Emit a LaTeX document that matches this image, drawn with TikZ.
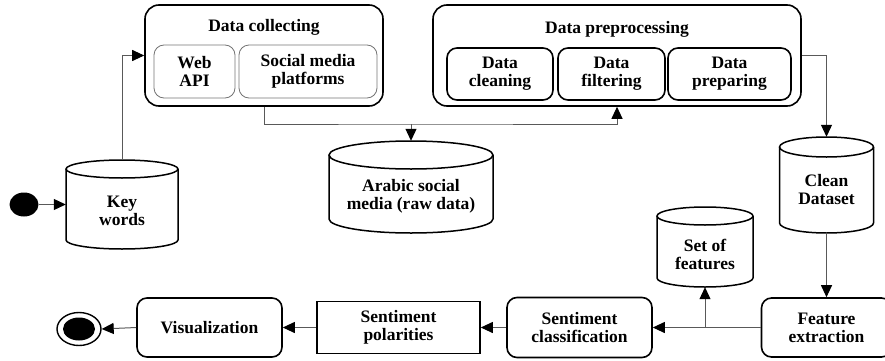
\documentclass[tikz,border=0pt]{standalone}
\usepackage{fontspec}
\setmainfont{Liberation Serif}
\usetikzlibrary{arrows.meta,shapes.geometric}
\tikzset{
  txt/.style={font=\fontsize{17.5}{18}\selectfont\bfseries, align=center, inner sep=0pt},
  bigbox/.style={draw, line width=1.6pt, rounded corners=14pt, inner sep=0pt},
  procbox/.style={txt, draw, line width=1.6pt, rounded corners=10pt},
  thinbox/.style={txt, draw=black!55, line width=0.8pt, rounded corners=10pt},
  sharpbox/.style={txt, draw, line width=1.6pt},
  cylline/.style={draw, line width=1.5pt},
  flow/.style={draw=black!65, line width=1pt, -{Triangle[length=12pt,width=11pt,color=black]}},
}
% #1 name, #2 cx, #3 top, #4 bottom, #5 half width, #6 ry, #7 text y, #8 text
\newcommand\dbcyl[8]{%
  \node[inner sep=0pt, minimum width={2*#5pt}, minimum height={(#3-#4)*1pt}] (#1) at (#2,{(#3+#4)/2}) {};
  \draw[cylline] (#2-#5,#3-#6) -- (#2-#5,#4+#6) arc[start angle=180,end angle=360,x radius=#5pt,y radius=#6pt] -- (#2+#5,#3-#6);
  \draw[cylline] (#2,#3-#6) ellipse[x radius=#5pt,y radius=#6pt];
  \node[txt] (#1-t) at (#2,#7) {#8};
}
\begin{document}
\begin{tikzpicture}[x=1pt,y=1pt]
\clip (0,0) rectangle (885,360);
% Data collecting
\node[bigbox, minimum width=238pt, minimum height=101pt] (dc) at (264,304.5) {};
\node[txt] (dct) at (264,333) {Data collecting};
\node[thinbox, minimum width=81pt, minimum height=53pt] (wa) at (194.5,288.5) {Web\\API};
\node[thinbox, minimum width=138pt, minimum height=53pt] (sm) at (308,288.5) {Social media\\platforms};
% Data preprocessing
\node[bigbox, minimum width=368pt, minimum height=101pt] (dp) at (617,304.5) {};
\node[txt] (dpt) at (617,331) {Data preprocessing};
\node[procbox, minimum width=106pt, minimum height=52pt] (dcl) at (500,286) {Data\\cleaning};
\node[procbox, minimum width=107pt, minimum height=52pt] (dfl) at (611.5,286) {Data\\filtering};
\node[procbox, minimum width=123pt, minimum height=52pt] (dpr) at (729.5,286) {Data\\preparing};
% Cylinders
\dbcyl{kw}{122}{200}{111}{56}{9}{149}{Key\\words}
\dbcyl{ar}{411}{219}{127}{82}{14}{163.5}{Arabic social\\media (raw data)}
\dbcyl{cd}{826.5}{223}{127}{47}{10}{170}{Clean\\Dataset}
\dbcyl{sof}{705}{153}{73}{48}{9}{106}{Set of\\features}
% start / end
\node[ellipse, fill=black, minimum width=29pt, minimum height=24pt, inner sep=0pt] (start) at (24,155.5) {};
\node[ellipse, draw, line width=1.4pt, minimum width=44pt, minimum height=33pt, inner sep=0pt] (endo) at (79,31) {};
\node[ellipse, fill=black, minimum width=32pt, minimum height=23pt, inner sep=0pt] (endi) at (79,31) {};
% bottom row
\node[procbox, minimum width=145pt, minimum height=59pt] (vis) at (209.5,32.5) {Visualization};
\node[sharpbox, minimum width=163pt, minimum height=52pt] (sp) at (398.5,32.5) {Sentiment\\polarities};
\node[procbox, minimum width=145pt, minimum height=60pt] (sc) at (579.5,32.5) {Sentiment\\classification};
\node[procbox, minimum width=130pt, minimum height=59pt] (fe) at (826.5,32.5) {Feature\\extraction};
% connectors
\draw[flow] (start) -- (kw.west);
\draw[flow] (kw.north) |- (dc.west);
\coordinate (j1) at (411,236);
\draw[flow] (dc.south) |- (j1) -| (dp.south);
\draw[flow] (j1) -- (ar.north);
\draw[flow] (dp.east) -| (cd.north);
\draw[flow] (cd.south) -- (fe.north);
\coordinate (j2) at (sof.south |- fe.west);
\draw[flow] (fe.west) -- (sc.east);
\draw[flow] (j2) -- (sof.south);
\draw[flow] (sc.west) -- (sp.east);
\draw[flow] (sp.west) -- (vis.east);
\draw[flow] (vis.west) -- (endo.east);
\end{tikzpicture}
\end{document}
